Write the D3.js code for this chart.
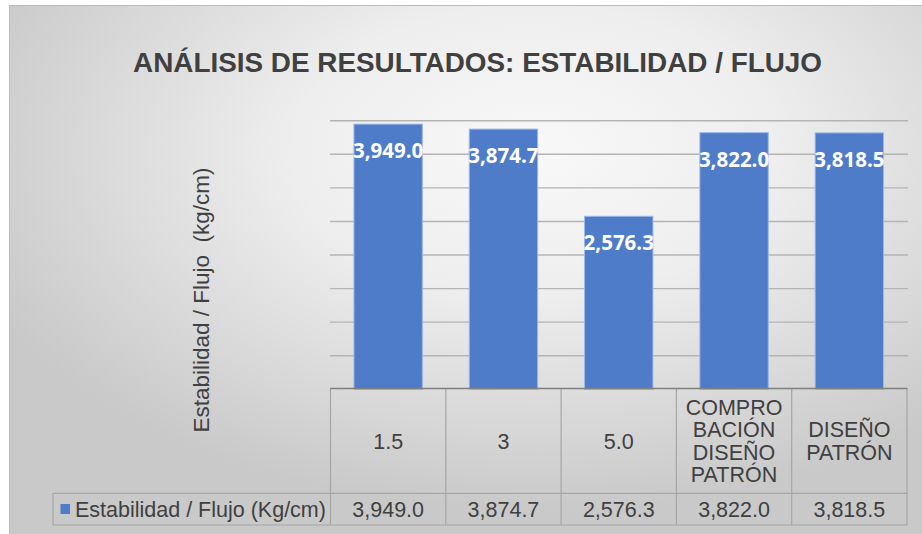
<!DOCTYPE html>
<html>
<head>
<meta charset="utf-8">
<script src="https://cdn.jsdelivr.net/npm/d3@7/dist/d3.min.js"></script>
<style>
  html, body { margin: 0; padding: 0; background: #ffffff; }
  svg { display: block; }
</style>
</head>
<body>
<svg id="chart" width="922" height="534"></svg>
<script>
// ---- data ----
const categories = [["1.5"], ["3"], ["5.0"], ["COMPRO", "BACIÓN", "DISEÑO", "PATRÓN"], ["DISEÑO", "PATRÓN"]];
const values = [3949.0, 3874.7, 2576.3, 3822.0, 3818.5];
const valueLabels = ["3,949.0", "3,874.7", "2,576.3", "3,822.0", "3,818.5"];
const seriesName = "Estabilidad / Flujo (Kg/cm)";
const yTicks = [0, 500, 1000, 1500, 2000, 2500, 3000, 3500, 4000];
const titleText = "ANÁLISIS DE RESULTADOS: ESTABILIDAD / FLUJO";
const yAxisTitle = "Estabilidad / Flujo  (kg/cm)";

const svg = d3.select("#chart");
const W = 922, H = 534;

// background
const defs = svg.append("defs");
const rg = defs.append("radialGradient").attr("id", "bg")
  .attr("cx", 0.56).attr("cy", 0.26).attr("r", 0.64);
rg.append("stop").attr("offset", "0").attr("stop-color", "#f8f8f8");
rg.append("stop").attr("offset", "0.4").attr("stop-color", "#eeeeee");
rg.append("stop").attr("offset", "1").attr("stop-color", "#c9c9c9");

svg.append("rect").attr("x", 0).attr("y", 0).attr("width", W).attr("height", H).attr("fill", "#ffffff");
svg.append("rect").attr("x", 9.5).attr("y", 5.5).attr("width", 940).attr("height", 560)
  .attr("fill", "url(#bg)").attr("stroke", "#bcbcbc").attr("stroke-width", 1);

// scales
const plotLeft = 330.5, plotRight = 907;
const idx = categories.map((d, i) => i);
const x = d3.scaleBand().domain(idx).range([plotLeft, plotRight]).paddingInner(0.407).paddingOuter(0.2035);
const y = d3.scaleLinear().domain([0, 4000]).range([389.3, 120.7]);

// title
const title = svg.append("text")
  .attr("x", 477.5).attr("y", 72)
  .attr("text-anchor", "middle")
  .attr("font-family", "Liberation Sans, Arial, sans-serif")
  .attr("font-weight", "bold")
  .attr("font-size", 28)
  .attr("fill", "#404040")
  .text(titleText);
title.attr("textLength", 689).attr("lengthAdjust", "spacingAndGlyphs");

// gridlines
svg.append("g").selectAll("line").data(yTicks.filter(t => t > 0)).join("line")
  .attr("x1", plotLeft - 0.5).attr("x2", plotRight + 1)
  .attr("y1", d => y(d)).attr("y2", d => y(d))
  .attr("stroke", "#b4b4b4").attr("stroke-width", 1.4);

// y-axis title
svg.append("text")
  .attr("transform", "translate(209,300) rotate(-90)")
  .attr("text-anchor", "middle")
  .attr("font-family", "Liberation Sans, Arial, sans-serif")
  .attr("font-size", 22.5)
  .attr("fill", "#404040")
  .attr("xml:space", "preserve")
  .style("white-space", "pre")
  .text(yAxisTitle);

// bars
svg.append("g").selectAll("rect").data(values).join("rect")
  .attr("x", (d, i) => x(i)).attr("width", x.bandwidth())
  .attr("y", d => y(d)).attr("height", d => y(0) - y(d))
  .attr("fill", "#4f7cc9").attr("stroke", "#9bb8e8").attr("stroke-width", 1);

// data labels
svg.append("g").selectAll("text").data(values).join("text")
  .attr("x", (d, i) => x(i) + x.bandwidth() / 2)
  .attr("y", d => y(d) + 34)
  .attr("text-anchor", "middle")
  .attr("font-family", "Open Sans, Lato, sans-serif")
  .attr("font-weight", "bold")
  .attr("font-size", 20.5)
  .attr("fill", "#ffffff")
  .text((d, i) => valueLabels[i]);

// data table
const tTop = 388.5, tMid = 493.3, tBot = 525;
const step = x.step();
const colEdges = idx.map(i => plotLeft + i * step).concat([plotRight]);
const tbl = svg.append("g").attr("stroke", "#a6a6a6").attr("stroke-width", 1.2).attr("fill", "none");
colEdges.forEach(cx => {
  tbl.append("line").attr("x1", cx).attr("x2", cx).attr("y1", tTop).attr("y2", tBot);
});
tbl.append("line").attr("x1", 53).attr("x2", 53).attr("y1", tMid).attr("y2", tBot);
tbl.append("line").attr("x1", 53).attr("x2", plotRight).attr("y1", tMid).attr("y2", tMid);
tbl.append("line").attr("x1", 53).attr("x2", plotRight).attr("y1", tBot).attr("y2", tBot);
svg.append("line").attr("x1", plotLeft - 0.5).attr("x2", plotRight + 0.5).attr("y1", tTop).attr("y2", tTop)
  .attr("stroke", "#7f7f7f").attr("stroke-width", 1.6);

const font = "Liberation Sans, Arial, sans-serif";
const lh = 22.5;
const rowMid = (tTop + tMid) / 2;
categories.forEach((lines, i) => {
  const cx = x(i) + x.bandwidth() / 2;
  const t = svg.append("text").attr("text-anchor", "middle").attr("font-family", font)
    .attr("font-size", 21.5).attr("fill", "#404040");
  lines.forEach((ln, j) => {
    const cy = rowMid + (j - (lines.length - 1) / 2) * lh;
    t.append("tspan").attr("x", cx).attr("y", cy).attr("dy", "0.36em").text(ln);
  });
});

// values row
svg.append("g").selectAll("text").data(values).join("text")
  .attr("x", (d, i) => x(i) + x.bandwidth() / 2)
  .attr("y", (tMid + tBot) / 2).attr("dy", "0.36em")
  .attr("text-anchor", "middle").attr("font-family", font)
  .attr("font-size", 21.5).attr("fill", "#404040")
  .text((d, i) => valueLabels[i]);

// legend key in table
svg.append("rect").attr("x", 60.5).attr("y", 504).attr("width", 9.5).attr("height", 10)
  .attr("fill", "#4f7cc9");
svg.append("text").attr("x", 75).attr("y", (tMid + tBot) / 2).attr("dy", "0.36em")
  .attr("font-family", font).attr("font-size", 21.5).attr("fill", "#404040")
  .text(seriesName);
</script>
</body>
</html>
